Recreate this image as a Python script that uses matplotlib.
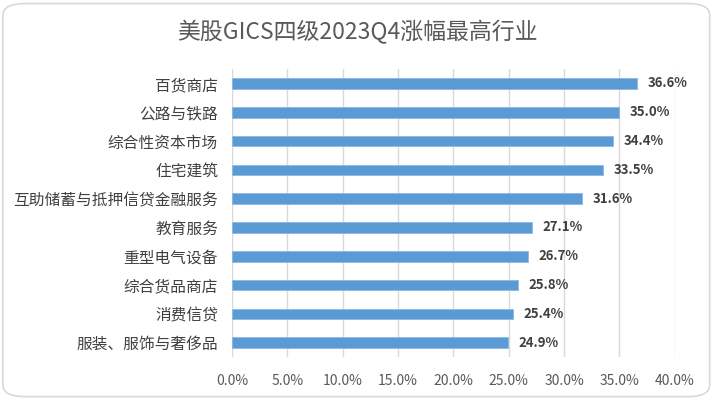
import numpy as np
import matplotlib
matplotlib.use('Agg')
import matplotlib.pyplot as plt
from matplotlib.patches import FancyBboxPatch

plt.rcParams['font.family'] = ['Noto Sans CJK SC', 'DejaVu Sans']

# data (top to bottom)
industries = ['百货商店', '公路与铁路', '综合性资本市场', '住宅建筑', '互助储蓄与抵押信贷金融服务',
              '教育服务', '重型电气设备', '综合货品商店', '消费信贷', '服装、服饰与奢侈品']
gains = [36.6, 35.0, 34.4, 33.5, 31.6, 27.1, 26.7, 25.8, 25.4, 24.9]
xticks = [0, 5, 10, 15, 20, 25, 30, 35, 40]

fig = plt.figure(figsize=(7.14, 3.99), dpi=100)
ax = fig.add_axes([0.325, 0.105, 0.62, 0.722])

# rounded chart border
border = FancyBboxPatch((0.004, 0.006), 0.99, 0.985, boxstyle='round,pad=0,rounding_size=0.03',
                        transform=fig.transFigure, facecolor='white', edgecolor='#D9D9D9',
                        linewidth=1.2, zorder=-10)
fig.patches.append(border)

y = np.arange(len(industries))
ax.barh(y, gains, height=0.37, color='#5B9BD5', edgecolor='#8DB8E3', linewidth=0.6, zorder=3)
for yi, v in zip(y, gains):
    ax.text(v + 0.95, yi, '%.1f%%' % v, va='center', ha='left', fontsize=9.5,
            fontweight='bold', color='#404040')

ax.set_ylim(len(industries) - 0.5, -0.5)
ax.set_yticks(y)
ax.set_yticklabels(industries, fontsize=11.3, color='#404040')
ax.set_xlim(0, 40)
ax.set_xticks(xticks)
ax.set_xticklabels(['%.1f%%' % t for t in xticks], fontsize=10, color='#595959')
ax.tick_params(axis='y', length=0, pad=10)
ax.tick_params(axis='x', length=0, pad=12)
ax.grid(axis='x', color='#D9D9D9', linewidth=1, zorder=0)
for s in ax.spines.values():
    s.set_visible(False)
ax.set_facecolor('none')

fig.text(0.5, 0.92, '美股GICS四级2023Q4涨幅最高行业', ha='center', va='center',
         fontsize=16.5, color='#595959')

fig.savefig('out.png', dpi=100)
